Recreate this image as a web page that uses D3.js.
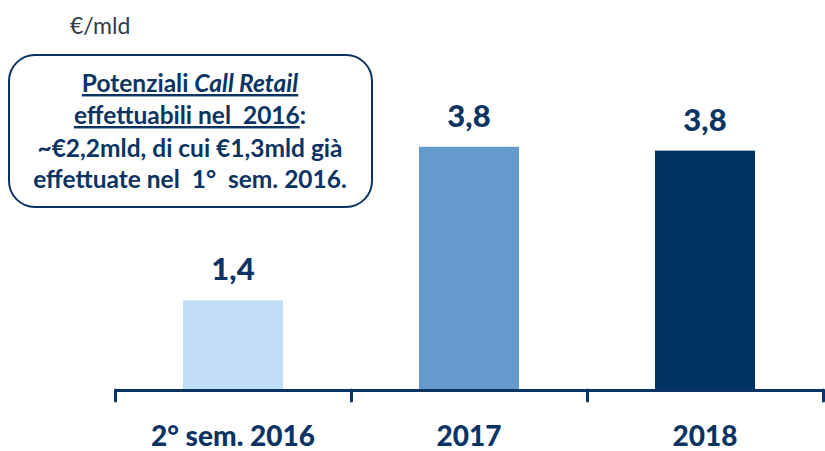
<!DOCTYPE html>
<html>
<head>
<meta charset="utf-8">
<script src="https://cdn.jsdelivr.net/npm/d3@7"></script>
<style>
  body { margin: 0; background: #fff; }
  svg text { font-family: Lato, "Open Sans", sans-serif; white-space: pre; }
</style>
</head>
<body>
<div id="chart"></div>
<script>
// data
const CATEGORIES = ["2° sem. 2016", "2017", "2018"]
const VALUES     = [1.4, 3.8, 3.74]
const LABELS     = ["1,4", "3,8", "3,8"]
const COLORS     = ["#c2ddf8", "#6699cc", "#003263"]
const UNIT       = "€/mld"

const W = 825, H = 451
const AXIS_Y = 390,
      LEFT = 115, RIGHT = 823
const NAVY = "#0b3463"

const svg = d3.select("#chart")
    .append("svg")
        .attr("width", W)
        .attr("height", H)

const x = d3.scaleBand()
    .domain(CATEGORIES)
    .range([LEFT, RIGHT])
    .paddingInner(0.576)
    .paddingOuter(0.288)

// boundaries between categories, for the tick marks
const xEdge = d3.scaleLinear()
    .domain([0, CATEGORIES.length])
    .range([LEFT, RIGHT])

const y = d3.scaleLinear()
    .domain([0, 4])
    .range([AXIS_Y, AXIS_Y - 256])

// bars
svg.selectAll("rect.bar")
    .data(VALUES)
    .join("rect")
        .attr("class", "bar")
        .attr("x", (d, i) => x(CATEGORIES[i]))
        .attr("width", x.bandwidth())
        .attr("y", d => y(d))
        .attr("height", d => y(0) - y(d))
        .style("fill", (d, i) => COLORS[i])

// value labels
svg.selectAll("text.val")
    .data(VALUES)
    .join("text")
        .attr("class", "val")
        .attr("x", (d, i) => x(CATEGORIES[i]) + x.bandwidth() / 2)
        .attr("y", d => y(d) - 20)
        .attr("text-anchor", "middle")
        .style("font-size", "31px")
        .style("font-weight", "900")
        .style("fill", NAVY)
        .text((d, i) => LABELS[i])

// x axis line + ticks at the category edges
const edgeAxis = svg.append("g")
    .attr("transform", `translate(0, ${AXIS_Y})`)
    .call(d3.axisBottom(xEdge)
        .tickValues(d3.range(CATEGORIES.length + 1))
        .tickSize(11)
        .tickSizeOuter(0)
        .tickFormat(""))
edgeAxis.select(".domain")
    .attr("stroke", NAVY)
    .attr("stroke-width", 3)
edgeAxis.selectAll(".tick line")
    .attr("stroke", NAVY)
    .attr("stroke-width", 3)
    .attr("stroke-linecap", "round")

// category labels
const catAxis = svg.append("g")
    .attr("transform", `translate(0, ${AXIS_Y})`)
    .call(d3.axisBottom(x).tickSize(0).tickPadding(56))
catAxis.select(".domain").remove()
catAxis.selectAll("text")
    .attr("dy", 0)
    .style("font-family", "Lato, sans-serif")
    .style("font-size", "28px")
    .style("font-weight", "900")
    .style("fill", NAVY)

// unit
svg.append("text")
    .attr("x", 70)
    .attr("y", 34)
    .style("font-size", "23px")
    .style("fill", "#333b4a")
    .text(UNIT)

// note box
svg.append("rect")
    .attr("x", 9)
    .attr("y", 55)
    .attr("width", 363)
    .attr("height", 152)
    .attr("rx", 26)
    .attr("ry", 26)
    .attr("fill", "#fff")
    .attr("stroke", NAVY)
    .attr("stroke-width", 2)

const note = svg.append("text")
    .attr("text-anchor", "middle")
    .style("font-size", "24.5px")
    .style("font-weight", "bold")
    .style("fill", NAVY)

const l1 = note.append("tspan").attr("x", 190).attr("y", 92)
    .style("text-decoration", "underline")
l1.append("tspan").text("Potenziali ")
l1.append("tspan").style("font-style", "italic").text("Call Retail")

const l2 = note.append("tspan").attr("x", 190).attr("y", 124)
l2.append("tspan").style("text-decoration", "underline").text("effettuabili nel  2016")
l2.append("tspan").text(":")

note.append("tspan").attr("x", 190).attr("y", 157)
    .text("~€2,2mld, di cui €1,3mld già")
note.append("tspan").attr("x", 190).attr("y", 188)
    .text("effettuate nel  1°  sem. 2016.")
</script>
</body>
</html>
